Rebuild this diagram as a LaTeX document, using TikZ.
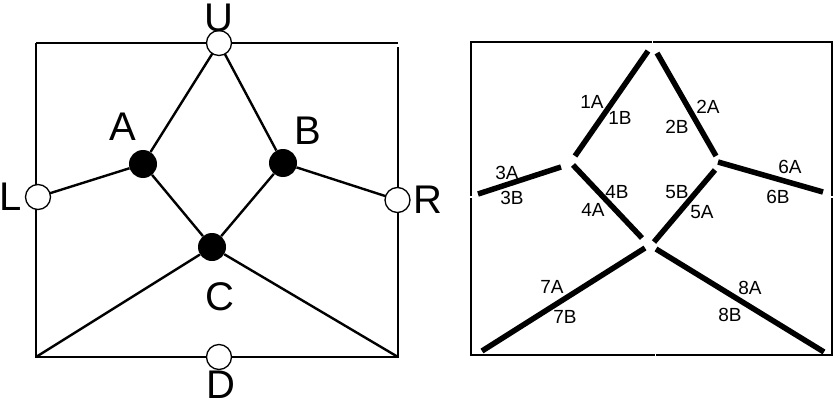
\documentclass[tikz,border=0pt]{standalone}
\usepackage{fontspec}
\setmainfont{Liberation Sans}
\begin{document}
\begin{tikzpicture}[x=1pt,y=-1pt,
  thin line/.style={line width=2.4pt, black},
  thick seg/.style={line width=5.5pt, black},
  opennode/.style={circle, draw=black, line width=1.3pt, fill=white, minimum size=25pt, inner sep=0pt},
  fillnode/.style={circle, fill=black, minimum size=28pt, inner sep=0pt},
  biglabel/.style={font=\fontsize{40}{40}\selectfont, inner sep=0pt},
  smalllabel/.style={font=\fontsize{19}{19}\selectfont, inner sep=0pt}]
\useasboundingbox (0,0) rectangle (835,404);
% ---------- left panel ----------
\coordinate (TL) at (36,43);
\coordinate (TR) at (398,43);
\coordinate (TRb) at (398,47);
\coordinate (BL) at (36,357);
\coordinate (BR) at (398,357);
\coordinate (Lp) at (38,197);
\coordinate (Rp) at (397.5,200);
\coordinate (Up) at (219,43);
\coordinate (Dp) at (219,357);
\draw[thin line] (TL) -- (TR);
\draw[thin line] (TL) -- (BL) -- (BR) -- (TRb);
\node[fillnode] (A) at (143,164) {};
\node[fillnode] (B) at (283,163) {};
\node[fillnode] (C) at (212,247) {};
\draw[thin line] (Up) -- (A) (Up) -- (B) (Lp) -- (A) (A) -- (C) (B) -- (C) (B) -- (Rp)
  (C) -- (BL) (C) -- (BR);
\node[opennode] (U) at (Up) {};
\node[opennode] (L) at (Lp) {};
\node[opennode] (R) at (Rp) {};
\node[opennode] (D) at (Dp) {};
\node[biglabel] (lU) at (219,18) {U};
\node[biglabel] (lA) at (123,127) {A};
\node[biglabel] (lB) at (308,131) {B};
\node[biglabel] (lL) at (11,197) {L};
\node[biglabel] (lR) at (428,200) {R};
\node[biglabel] (lC) at (220,297) {C};
\node[biglabel] (lD) at (221,385) {D};
% ---------- right panel ----------
\coordinate (rTL) at (471,42);
\coordinate (rTM1) at (651.5,42);
\coordinate (rTM2) at (653,42);
\coordinate (rTR) at (832,42);
\coordinate (rLM1) at (471,196);
\coordinate (rLM2) at (471,198);
\coordinate (rRM1) at (832,196);
\coordinate (rRM2) at (832,198);
\coordinate (rBL) at (471,355);
\coordinate (rBM1) at (654.5,355);
\coordinate (rBM2) at (656,355);
\coordinate (rBR) at (832,355);
\draw[thin line] (rLM1) -- (rTL) -- (rTM1);
\draw[thin line] (rTM2) -- (rTR) -- (rRM1);
\draw[thin line] (rLM2) -- (rBL) -- (rBM1);
\draw[thin line] (rBM2) -- (rBR) -- (rRM2);
\coordinate (s1a) at (575,156); \coordinate (s1b) at (648,51);
\coordinate (s2a) at (657,53);  \coordinate (s2b) at (716,156);
\coordinate (s3a) at (478,194); \coordinate (s3b) at (561,167);
\coordinate (s6a) at (718,162); \coordinate (s6b) at (823,192);
\coordinate (s4a) at (573,165); \coordinate (s4b) at (642,238);
\coordinate (s5a) at (715,170); \coordinate (s5b) at (654,242);
\coordinate (s7a) at (645,248); \coordinate (s7b) at (482,351);
\coordinate (s8a) at (656,249); \coordinate (s8b) at (824,352);
\foreach \i in {1,...,8} { \draw[thick seg] (s\i a) -- (s\i b); }
\node[smalllabel] (t1A) at (592,102) {1A};
\node[smalllabel] (t1B) at (620,118) {1B};
\node[smalllabel] (t2A) at (708,107) {2A};
\node[smalllabel] (t2B) at (677,127) {2B};
\node[smalllabel] (t3A) at (507,173) {3A};
\node[smalllabel] (t3B) at (512,198) {3B};
\node[smalllabel] (t4B) at (617,192) {4B};
\node[smalllabel] (t4A) at (593,210) {4A};
\node[smalllabel] (t5B) at (677,192) {5B};
\node[smalllabel] (t5A) at (702,212) {5A};
\node[smalllabel] (t6A) at (790,167) {6A};
\node[smalllabel] (t6B) at (778,197) {6B};
\node[smalllabel] (t7A) at (552,287) {7A};
\node[smalllabel] (t7B) at (565,317) {7B};
\node[smalllabel] (t8A) at (750,288) {8A};
\node[smalllabel] (t8B) at (730,315) {8B};
\end{tikzpicture}
\end{document}
